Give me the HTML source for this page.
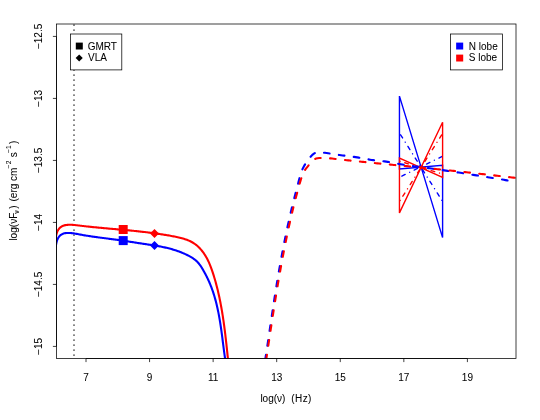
<!DOCTYPE html>
<html><head><meta charset="utf-8"><title>SED</title>
<style>html,body{margin:0;padding:0;background:#fff;width:540px;height:420px;overflow:hidden}svg{display:block}text{font-family:"Liberation Sans",sans-serif;stroke:#000;stroke-width:0.06px}</style>
</head><body>
<svg width="540" height="420" viewBox="0 0 540 420" style="position:absolute;left:0;top:0">
<defs><clipPath id="pc"><rect x="56.5" y="24" width="459.5" height="334.5"/></clipPath></defs>
<rect x="0" y="0" width="540" height="420" fill="#fff"/>
<g clip-path="url(#pc)" fill="none" stroke-linejoin="round">
<line x1="74" y1="24.375" x2="74" y2="358.5" stroke="#000" stroke-width="1.25" stroke-dasharray="1.25 3.75"/>
<path d="M55.70,247.57 L55.81,246.60 L55.94,245.60 L56.09,244.57 L56.28,243.52 L56.50,242.48 L56.76,241.45 L57.07,240.43 L57.44,239.46 L57.86,238.52 L58.34,237.64 L58.90,236.83 L59.52,236.09 L60.20,235.43 L60.95,234.84 L61.75,234.34 L62.61,233.93 L63.52,233.60 L64.47,233.34 L65.44,233.15 L66.44,233.03 L67.46,232.96 L68.48,232.94 L69.49,232.96 L70.51,233.01 L71.53,233.10 L72.54,233.22 L73.56,233.36 L74.57,233.52 L75.59,233.69 L76.60,233.88 L77.61,234.07 L78.62,234.26 L79.63,234.45 L80.64,234.64 L81.65,234.82 L82.66,235.00 L83.66,235.17 L84.67,235.34 L85.67,235.51 L86.68,235.67 L87.68,235.83 L88.68,235.99 L89.69,236.14 L90.69,236.29 L91.69,236.44 L92.69,236.59 L93.69,236.73 L94.69,236.87 L95.69,237.01 L96.69,237.15 L97.68,237.28 L98.68,237.42 L99.68,237.55 L100.68,237.68 L101.67,237.81 L102.67,237.94 L103.67,238.07 L104.67,238.20 L105.66,238.33 L106.66,238.46 L107.66,238.58 L108.65,238.71 L109.65,238.84 L110.65,238.97 L111.64,239.10 L112.64,239.23 L113.64,239.36 L114.64,239.49 L115.63,239.62 L116.63,239.75 L117.63,239.89 L118.63,240.03 L119.63,240.17 L120.63,240.31 L121.63,240.45 L122.63,240.60 L123.63,240.75 L124.63,240.90 L125.64,241.05 L126.64,241.20 L127.64,241.36 L128.65,241.52 L129.65,241.68 L130.65,241.84 L131.66,242.00 L132.66,242.16 L133.67,242.32 L134.67,242.48 L135.67,242.63 L136.68,242.79 L137.68,242.95 L138.68,243.11 L139.69,243.26 L140.69,243.41 L141.69,243.56 L142.69,243.71 L143.69,243.86 L144.69,244.00 L145.69,244.15 L146.69,244.30 L147.69,244.45 L148.69,244.59 L149.69,244.74 L150.69,244.89 L151.68,245.05 L152.68,245.20 L153.67,245.36 L154.67,245.52 L155.66,245.68 L156.66,245.85 L157.65,246.03 L158.64,246.20 L159.63,246.39 L160.62,246.57 L161.62,246.77 L162.61,246.97 L163.59,247.17 L164.58,247.39 L165.57,247.61 L166.56,247.83 L167.54,248.07 L168.53,248.31 L169.51,248.56 L170.49,248.83 L171.47,249.09 L172.45,249.37 L173.42,249.66 L174.39,249.96 L175.36,250.26 L176.32,250.58 L177.29,250.90 L178.24,251.24 L179.20,251.59 L180.15,251.95 L181.09,252.31 L182.03,252.69 L182.96,253.09 L183.89,253.49 L184.82,253.90 L185.74,254.33 L186.65,254.77 L187.56,255.22 L188.45,255.68 L189.35,256.16 L190.23,256.65 L191.11,257.16 L191.98,257.68 L192.83,258.22 L193.67,258.78 L194.48,259.37 L195.27,259.99 L196.03,260.63 L196.77,261.31 L197.47,262.01 L198.15,262.74 L198.80,263.50 L199.43,264.29 L200.03,265.09 L200.61,265.92 L201.17,266.76 L201.72,267.61 L202.25,268.48 L202.77,269.36 L203.28,270.25 L203.78,271.14 L204.27,272.03 L204.76,272.92 L205.24,273.82 L205.72,274.72 L206.19,275.63 L206.65,276.53 L207.10,277.44 L207.55,278.36 L207.98,279.27 L208.41,280.19 L208.83,281.11 L209.24,282.04 L209.64,282.96 L210.03,283.90 L210.41,284.83 L210.79,285.77 L211.15,286.70 L211.51,287.65 L211.86,288.59 L212.20,289.54 L212.54,290.49 L212.87,291.44 L213.19,292.39 L213.50,293.35 L213.81,294.31 L214.11,295.27 L214.40,296.24 L214.68,297.20 L214.96,298.17 L215.23,299.14 L215.50,300.11 L215.76,301.09 L216.01,302.06 L216.26,303.04 L216.51,304.02 L216.74,305.00 L216.97,305.98 L217.20,306.97 L217.42,307.95 L217.64,308.94 L217.85,309.93 L218.06,310.92 L218.26,311.91 L218.45,312.91 L218.65,313.90 L218.84,314.90 L219.02,315.89 L219.20,316.89 L219.38,317.89 L219.55,318.89 L219.72,319.89 L219.89,320.89 L220.05,321.89 L220.22,322.89 L220.37,323.90 L220.53,324.90 L220.68,325.91 L220.83,326.91 L220.98,327.92 L221.12,328.92 L221.27,329.93 L221.41,330.94 L221.55,331.94 L221.68,332.95 L221.82,333.96 L221.96,334.96 L222.09,335.97 L222.22,336.98 L222.35,337.99 L222.48,338.99 L222.61,340.00 L222.74,341.00 L222.87,342.01 L223.00,343.02 L223.13,344.02 L223.26,345.03 L223.39,346.03 L223.52,347.03 L223.65,348.04 L223.78,349.04 L223.91,350.04 L224.04,351.04 L224.17,352.04 L224.31,353.04 L224.44,354.04 L224.58,355.03 L224.72,356.03 L224.86,357.02 L225.00,358.02 L225.14,359.01 L225.29,360.00 L225.44,360.99 L225.59,361.98 L225.74,362.96" stroke="#0000ff" stroke-width="2.1"/>
<path d="M55.70,238.60 L55.82,237.54 L55.98,236.45 L56.19,235.36 L56.44,234.27 L56.75,233.20 L57.11,232.15 L57.54,231.14 L58.03,230.19 L58.59,229.30 L59.23,228.48 L59.93,227.75 L60.70,227.09 L61.53,226.53 L62.42,226.05 L63.36,225.67 L64.35,225.37 L65.37,225.14 L66.42,224.97 L67.48,224.85 L68.55,224.79 L69.61,224.76 L70.68,224.77 L71.75,224.80 L72.82,224.87 L73.89,224.95 L74.96,225.05 L76.02,225.17 L77.09,225.29 L78.16,225.42 L79.23,225.55 L80.29,225.68 L81.36,225.81 L82.43,225.93 L83.49,226.06 L84.56,226.18 L85.62,226.30 L86.69,226.42 L87.75,226.53 L88.82,226.65 L89.88,226.76 L90.95,226.87 L92.01,226.98 L93.07,227.09 L94.14,227.19 L95.20,227.30 L96.26,227.40 L97.32,227.50 L98.39,227.61 L99.45,227.71 L100.51,227.81 L101.57,227.91 L102.63,228.01 L103.69,228.10 L104.76,228.20 L105.82,228.30 L106.88,228.39 L107.94,228.49 L109.00,228.58 L110.06,228.68 L111.12,228.77 L112.18,228.87 L113.24,228.96 L114.29,229.06 L115.35,229.15 L116.41,229.25 L117.47,229.34 L118.53,229.44 L119.59,229.53 L120.65,229.63 L121.70,229.72 L122.76,229.82 L123.82,229.92 L124.88,230.01 L125.94,230.11 L126.99,230.21 L128.05,230.31 L129.11,230.41 L130.16,230.51 L131.22,230.62 L132.28,230.72 L133.34,230.83 L134.39,230.93 L135.45,231.04 L136.51,231.15 L137.56,231.26 L138.62,231.37 L139.68,231.48 L140.73,231.60 L141.79,231.72 L142.85,231.84 L143.90,231.96 L144.96,232.08 L146.01,232.20 L147.07,232.33 L148.13,232.46 L149.18,232.59 L150.24,232.72 L151.30,232.86 L152.35,233.00 L153.41,233.14 L154.46,233.28 L155.52,233.43 L156.58,233.57 L157.63,233.72 L158.69,233.88 L159.75,234.03 L160.80,234.19 L161.86,234.36 L162.92,234.52 L163.97,234.69 L165.03,234.86 L166.09,235.04 L167.14,235.22 L168.20,235.40 L169.26,235.58 L170.31,235.77 L171.37,235.96 L172.43,236.16 L173.48,236.36 L174.54,236.56 L175.60,236.77 L176.65,236.99 L177.70,237.22 L178.75,237.45 L179.80,237.69 L180.84,237.95 L181.87,238.22 L182.90,238.51 L183.91,238.81 L184.92,239.13 L185.93,239.47 L186.92,239.83 L187.90,240.22 L188.87,240.62 L189.82,241.05 L190.76,241.51 L191.69,242.00 L192.60,242.51 L193.50,243.05 L194.38,243.63 L195.24,244.24 L196.09,244.88 L196.91,245.56 L197.72,246.26 L198.50,246.99 L199.27,247.75 L200.01,248.53 L200.73,249.33 L201.44,250.15 L202.11,250.98 L202.77,251.83 L203.41,252.69 L204.02,253.57 L204.61,254.46 L205.18,255.35 L205.73,256.26 L206.27,257.18 L206.78,258.11 L207.28,259.05 L207.76,260.00 L208.23,260.95 L208.68,261.92 L209.11,262.89 L209.53,263.86 L209.94,264.85 L210.34,265.84 L210.73,266.83 L211.10,267.83 L211.47,268.83 L211.83,269.84 L212.18,270.85 L212.52,271.86 L212.85,272.88 L213.18,273.90 L213.50,274.91 L213.82,275.93 L214.14,276.95 L214.44,277.97 L214.75,279.00 L215.04,280.02 L215.34,281.05 L215.62,282.07 L215.91,283.10 L216.19,284.13 L216.46,285.16 L216.73,286.19 L216.99,287.22 L217.25,288.25 L217.51,289.29 L217.76,290.32 L218.01,291.36 L218.25,292.39 L218.49,293.43 L218.72,294.47 L218.95,295.51 L219.18,296.55 L219.40,297.59 L219.62,298.63 L219.84,299.67 L220.05,300.71 L220.26,301.76 L220.46,302.80 L220.66,303.85 L220.86,304.89 L221.05,305.94 L221.25,306.99 L221.43,308.03 L221.62,309.08 L221.80,310.13 L221.98,311.18 L222.15,312.23 L222.32,313.28 L222.49,314.34 L222.66,315.39 L222.83,316.44 L222.99,317.49 L223.15,318.55 L223.30,319.60 L223.46,320.66 L223.61,321.71 L223.76,322.77 L223.90,323.82 L224.05,324.88 L224.19,325.93 L224.33,326.99 L224.47,328.05 L224.61,329.11 L224.74,330.16 L224.88,331.22 L225.01,332.28 L225.14,333.34 L225.27,334.40 L225.39,335.46 L225.52,336.52 L225.64,337.57 L225.77,338.63 L225.89,339.69 L226.01,340.75 L226.13,341.81 L226.24,342.87 L226.36,343.93 L226.48,344.99 L226.59,346.05 L226.71,347.11 L226.82,348.17 L226.93,349.23 L227.05,350.29 L227.16,351.35 L227.27,352.41 L227.38,353.47 L227.49,354.53 L227.60,355.59 L227.71,356.65 L227.82,357.71 L227.93,358.77 L228.04,359.83 L228.15,360.88 L228.26,361.94 L228.37,363.00" stroke="#ff0000" stroke-width="2.1"/>
<rect x="118.7" y="236.1" width="9" height="9" fill="#0000ff"/>
<rect x="118.7" y="225.0" width="9" height="9" fill="#ff0000"/>
<path d="M150.0,245.4 L154.5,240.9 L159.0,245.4 L154.5,249.9 Z" fill="#0000ff"/>
<path d="M150.0,233.5 L154.5,229.0 L159.0,233.5 L154.5,238.0 Z" fill="#ff0000"/>
<path d="M399.45,169.0 L399.45,96.1 L442.6,237.6 L442.6,165.2 Z" stroke="#0000ff" stroke-width="1.4" stroke-linejoin="miter"/>
<line x1="399.45" y1="133.0" x2="442.6" y2="201.5" stroke="#0000ff" stroke-width="1.4" stroke-dasharray="0.01 5 3.75 4.99" stroke-linecap="round" stroke-dashoffset="2.9"/>
<line x1="399.45" y1="177.3" x2="442.6" y2="156.2" stroke="#0000ff" stroke-width="1.4" stroke-dasharray="0.01 5 3.75 4.99" stroke-linecap="round" stroke-dashoffset="2.37"/>
<path d="M399.45,158.0 L399.45,212.9 L442.6,122.2 L442.6,177.4 Z" stroke="#ff0000" stroke-width="1.4" stroke-linejoin="miter"/>
<line x1="399.45" y1="201.5" x2="442.6" y2="133.5" stroke="#ff0000" stroke-width="1.4" stroke-dasharray="0.01 5 3.75 4.99" stroke-linecap="round" stroke-dashoffset="12.45"/>
<line x1="399.45" y1="161.2" x2="442.6" y2="174.0" stroke="#ff0000" stroke-width="1.4" stroke-dasharray="0.01 5 3.75 4.99" stroke-linecap="round" stroke-dashoffset="13.23"/>
<path id="bd" d="M264.22,366.00 L264.48,364.39 L264.73,362.78 L264.99,361.17 L265.24,359.56 L265.49,357.95 L265.74,356.33 L265.99,354.72 L266.23,353.11 L266.48,351.50 L266.72,349.88 L266.97,348.27 L267.21,346.66 L267.45,345.05 L267.70,343.43 L267.94,341.82 L268.18,340.21 L268.42,338.59 L268.66,336.98 L268.90,335.37 L269.14,333.75 L269.38,332.14 L269.62,330.53 L269.86,328.92 L270.10,327.30 L270.34,325.69 L270.58,324.08 L270.82,322.46 L271.06,320.85 L271.30,319.24 L271.54,317.62 L271.78,316.01 L272.02,314.40 L272.26,312.78 L272.51,311.17 L272.75,309.56 L272.99,307.95 L273.24,306.34 L273.48,304.72 L273.73,303.11 L273.98,301.50 L274.23,299.89 L274.48,298.28 L274.73,296.66 L274.99,295.05 L275.24,293.44 L275.50,291.83 L275.75,290.22 L276.01,288.61 L276.27,287.00 L276.54,285.39 L276.80,283.78 L277.07,282.17 L277.34,280.57 L277.61,278.96 L277.88,277.35 L278.15,275.74 L278.43,274.13 L278.70,272.53 L278.98,270.92 L279.27,269.31 L279.55,267.71 L279.84,266.10 L280.12,264.49 L280.41,262.89 L280.70,261.28 L281.00,259.68 L281.29,258.07 L281.59,256.47 L281.89,254.87 L282.19,253.26 L282.50,251.66 L282.80,250.06 L283.11,248.46 L283.42,246.86 L283.73,245.25 L284.05,243.65 L284.36,242.05 L284.68,240.45 L285.00,238.85 L285.33,237.25 L285.65,235.66 L285.98,234.06 L286.31,232.46 L286.65,230.87 L286.98,229.27 L287.32,227.67 L287.66,226.08 L288.01,224.49 L288.36,222.89 L288.71,221.30 L289.06,219.71 L289.42,218.12 L289.79,216.54 L290.15,214.95 L290.52,213.36 L290.90,211.78 L291.28,210.20 L291.66,208.62 L292.05,207.04 L292.44,205.46 L292.83,203.88 L293.23,202.31 L293.63,200.73 L294.03,199.15 L294.43,197.57 L294.83,195.99 L295.24,194.42 L295.64,192.84 L296.06,191.27 L296.47,189.71 L296.89,188.14 L297.31,186.57 L297.72,185.00 L298.12,183.42 L298.53,181.83 L298.93,180.23 L299.34,178.64 L299.77,177.05 L300.22,175.48 L300.70,173.92 L301.23,172.38 L301.79,170.86 L302.41,169.38 L303.08,167.93 L303.82,166.51 L304.61,165.11 L305.45,163.72 L306.35,162.35 L307.31,160.99 L308.30,159.65 L309.34,158.33 L310.42,157.03 L311.53,155.77 L312.70,154.60 L313.94,153.60 L315.28,152.85 L316.73,152.40 L318.28,152.21 L319.90,152.21 L321.56,152.36 L323.23,152.58 L324.89,152.81 L326.53,153.06 L328.16,153.30 L329.79,153.56 L331.40,153.81 L333.01,154.06 L334.62,154.30 L336.23,154.54 L337.83,154.78 L339.44,155.00 L341.05,155.22 L342.66,155.43 L344.28,155.63 L345.89,155.84 L347.51,156.04 L349.13,156.25 L350.74,156.45 L352.36,156.67 L353.98,156.89 L355.59,157.12 L357.20,157.37 L358.82,157.63 L360.42,157.90 L362.03,158.19 L363.63,158.49 L365.24,158.79 L366.84,159.09 L368.45,159.38 L370.05,159.66 L371.66,159.92 L373.27,160.16 L374.89,160.37 L376.51,160.55 L378.13,160.70 L379.75,160.86 L381.37,161.01 L382.99,161.19 L384.61,161.40 L386.22,161.63 L387.83,161.88 L389.44,162.15 L391.04,162.44 L392.65,162.73 L394.25,163.04 L395.85,163.35 L397.46,163.66 L399.06,163.97 L400.66,164.27 L402.27,164.56 L403.88,164.84 L405.49,165.11 L407.10,165.36 L408.71,165.59 L410.33,165.82 L411.94,166.03 L413.56,166.24 L415.18,166.44 L416.80,166.65 L418.42,166.85 L420.03,167.05 L421.65,167.26 L423.27,167.47 L424.89,167.68 L426.50,167.89 L428.12,168.11 L429.74,168.32 L431.35,168.55 L432.97,168.77 L434.58,168.99 L436.20,169.22 L437.81,169.45 L439.43,169.68 L441.04,169.91 L442.66,170.15 L444.27,170.38 L445.88,170.62 L447.50,170.86 L449.11,171.10 L450.72,171.34 L452.33,171.59 L453.95,171.83 L455.56,172.08 L457.17,172.33 L458.78,172.58 L460.39,172.82 L462.00,173.08 L463.62,173.33 L465.23,173.58 L466.84,173.83 L468.45,174.09 L470.06,174.34 L471.67,174.60 L473.28,174.85 L474.89,175.11 L476.50,175.36 L478.11,175.62 L479.72,175.88 L481.33,176.14 L482.94,176.39 L484.55,176.65 L486.16,176.91 L487.77,177.17 L489.38,177.43 L490.99,177.69 L492.60,177.95 L494.21,178.22 L495.82,178.48 L497.43,178.75 L499.04,179.02 L500.64,179.29 L502.25,179.56 L503.86,179.83 L505.47,180.11 L507.07,180.38 L508.68,180.66 L510.29,180.94 L511.89,181.23 L513.50,181.51" stroke="#0000ff" stroke-width="2.1" stroke-dasharray="5.625 9.375" stroke-linecap="round" stroke-dashoffset="9.4"/>
<path id="rd" d="M265.28,366.01 L265.52,364.40 L265.76,362.79 L266.00,361.18 L266.23,359.57 L266.47,357.96 L266.71,356.35 L266.95,354.74 L267.19,353.13 L267.42,351.51 L267.66,349.90 L267.90,348.29 L268.14,346.68 L268.38,345.07 L268.62,343.46 L268.86,341.85 L269.10,340.24 L269.34,338.63 L269.58,337.02 L269.82,335.41 L270.06,333.80 L270.30,332.19 L270.55,330.58 L270.79,328.97 L271.03,327.36 L271.28,325.75 L271.52,324.14 L271.77,322.53 L272.01,320.92 L272.26,319.31 L272.51,317.70 L272.75,316.09 L273.00,314.48 L273.25,312.87 L273.50,311.26 L273.76,309.65 L274.01,308.04 L274.26,306.43 L274.52,304.82 L274.77,303.22 L275.03,301.61 L275.29,300.00 L275.55,298.39 L275.81,296.78 L276.07,295.18 L276.33,293.57 L276.60,291.96 L276.86,290.36 L277.13,288.75 L277.40,287.14 L277.67,285.54 L277.94,283.93 L278.21,282.33 L278.49,280.72 L278.76,279.12 L279.04,277.51 L279.32,275.91 L279.60,274.30 L279.89,272.70 L280.17,271.10 L280.46,269.49 L280.74,267.89 L281.03,266.29 L281.33,264.69 L281.62,263.09 L281.92,261.49 L282.21,259.89 L282.51,258.28 L282.81,256.68 L283.12,255.09 L283.42,253.49 L283.73,251.89 L284.04,250.29 L284.35,248.69 L284.67,247.09 L284.99,245.50 L285.31,243.90 L285.63,242.30 L285.95,240.71 L286.28,239.11 L286.61,237.52 L286.94,235.92 L287.27,234.33 L287.61,232.74 L287.95,231.14 L288.29,229.55 L288.63,227.96 L288.98,226.37 L289.33,224.78 L289.68,223.19 L290.04,221.60 L290.40,220.01 L290.76,218.42 L291.12,216.83 L291.49,215.24 L291.86,213.66 L292.23,212.07 L292.61,210.49 L292.99,208.90 L293.37,207.32 L293.76,205.74 L294.15,204.16 L294.55,202.58 L294.96,201.01 L295.37,199.44 L295.78,197.87 L296.21,196.30 L296.63,194.73 L297.06,193.17 L297.48,191.60 L297.91,190.02 L298.33,188.45 L298.76,186.87 L299.19,185.30 L299.63,183.72 L300.08,182.16 L300.55,180.60 L301.04,179.04 L301.55,177.50 L302.08,175.97 L302.66,174.46 L303.30,172.99 L304.02,171.56 L304.84,170.18 L305.77,168.86 L306.77,167.58 L307.82,166.30 L308.89,165.00 L309.96,163.67 L311.03,162.35 L312.15,161.10 L313.34,160.01 L314.63,159.15 L316.05,158.56 L317.57,158.21 L319.15,158.03 L320.77,157.96 L322.40,157.95 L324.03,157.98 L325.65,158.05 L327.27,158.15 L328.89,158.27 L330.52,158.42 L332.14,158.58 L333.76,158.75 L335.38,158.93 L337.00,159.11 L338.62,159.30 L340.24,159.48 L341.86,159.65 L343.48,159.83 L345.10,160.01 L346.72,160.18 L348.34,160.36 L349.96,160.53 L351.58,160.70 L353.20,160.87 L354.82,161.04 L356.45,161.21 L358.07,161.38 L359.69,161.55 L361.31,161.71 L362.93,161.88 L364.55,162.04 L366.17,162.21 L367.79,162.37 L369.41,162.54 L371.03,162.70 L372.65,162.86 L374.27,163.02 L375.89,163.18 L377.51,163.34 L379.14,163.50 L380.76,163.66 L382.38,163.82 L384.00,163.98 L385.62,164.13 L387.24,164.29 L388.86,164.45 L390.48,164.61 L392.10,164.76 L393.72,164.92 L395.34,165.08 L396.96,165.23 L398.58,165.39 L400.20,165.55 L401.82,165.70 L403.44,165.86 L405.06,166.02 L406.69,166.17 L408.31,166.33 L409.93,166.49 L411.55,166.64 L413.17,166.80 L414.79,166.96 L416.41,167.11 L418.03,167.27 L419.65,167.43 L421.27,167.59 L422.89,167.75 L424.51,167.91 L426.13,168.07 L427.75,168.23 L429.37,168.39 L430.99,168.55 L432.61,168.71 L434.23,168.88 L435.85,169.04 L437.47,169.20 L439.09,169.37 L440.71,169.53 L442.33,169.70 L443.95,169.87 L445.57,170.03 L447.19,170.20 L448.80,170.37 L450.42,170.54 L452.04,170.71 L453.66,170.89 L455.28,171.06 L456.90,171.23 L458.52,171.41 L460.14,171.59 L461.76,171.76 L463.38,171.94 L465.00,172.12 L466.61,172.30 L468.23,172.47 L469.85,172.65 L471.47,172.84 L473.09,173.02 L474.71,173.20 L476.33,173.38 L477.94,173.56 L479.56,173.74 L481.18,173.93 L482.80,174.11 L484.42,174.30 L486.03,174.48 L487.65,174.67 L489.27,174.85 L490.89,175.04 L492.51,175.22 L494.12,175.41 L495.74,175.59 L497.36,175.78 L498.98,175.96 L500.59,176.15 L502.21,176.34 L503.83,176.52 L505.45,176.71 L507.06,176.90 L508.68,177.08 L510.30,177.27 L511.91,177.45 L513.53,177.64 L515.15,177.82 L516.76,178.01 L518.38,178.20 L520.00,178.38" stroke="#ff0000" stroke-width="2.1" stroke-dasharray="5.625 9.375" stroke-linecap="round" stroke-dashoffset="9.36"/>
</g>
<g stroke="#000" fill="none" stroke-width="0.75">
<rect x="56.5" y="24" width="459.5" height="334.5" />
<path d="M86.00,358.5 L467.40,358.5"/>
<line x1="86.00" y1="358.5" x2="86.00" y2="362.1"/>
<line x1="149.57" y1="358.5" x2="149.57" y2="362.1"/>
<line x1="213.13" y1="358.5" x2="213.13" y2="362.1"/>
<line x1="276.70" y1="358.5" x2="276.70" y2="362.1"/>
<line x1="340.27" y1="358.5" x2="340.27" y2="362.1"/>
<line x1="403.83" y1="358.5" x2="403.83" y2="362.1"/>
<line x1="467.40" y1="358.5" x2="467.40" y2="362.1"/>
<path d="M56.5,36.42 L56.5,346.42"/>
<line x1="56.5" y1="36.42" x2="52.9" y2="36.42"/>
<line x1="56.5" y1="98.42" x2="52.9" y2="98.42"/>
<line x1="56.5" y1="160.42" x2="52.9" y2="160.42"/>
<line x1="56.5" y1="222.42" x2="52.9" y2="222.42"/>
<line x1="56.5" y1="284.42" x2="52.9" y2="284.42"/>
<line x1="56.5" y1="346.42" x2="52.9" y2="346.42"/>
</g>
<rect x="70.5" y="34" width="51.3" height="35.9" fill="#fff" stroke="#000" stroke-width="0.75"/>
<rect x="75.8" y="42.6" width="7" height="6.9" fill="#000"/>
<path d="M75.65,58 L79.2,54.45 L82.75,58 L79.2,61.55 Z" fill="#000"/>
<rect x="450.5" y="34" width="52" height="35.9" fill="#fff" stroke="#000" stroke-width="0.75"/>
<rect x="456.15" y="42.6" width="7.05" height="6.9" fill="#0000ff"/>
<rect x="456.15" y="54.6" width="7.05" height="6.9" fill="#ff0000"/>
<g font-family="Liberation Sans, sans-serif" font-size="10px" fill="#000" opacity="0.999">
<text x="86.00" y="380.6" text-anchor="middle">7</text>
<text x="149.57" y="380.6" text-anchor="middle">9</text>
<text x="213.13" y="380.6" text-anchor="middle">11</text>
<text x="276.70" y="380.6" text-anchor="middle">13</text>
<text x="340.27" y="380.6" text-anchor="middle">15</text>
<text x="403.83" y="380.6" text-anchor="middle">17</text>
<text x="467.40" y="380.6" text-anchor="middle">19</text>
<text transform="translate(42.3,36.42) rotate(-90)" text-anchor="middle">−12.5</text>
<text transform="translate(42.3,98.42) rotate(-90)" text-anchor="middle">−13</text>
<text transform="translate(42.3,160.42) rotate(-90)" text-anchor="middle">−13.5</text>
<text transform="translate(42.3,222.42) rotate(-90)" text-anchor="middle">−14</text>
<text transform="translate(42.3,284.42) rotate(-90)" text-anchor="middle">−14.5</text>
<text transform="translate(42.3,346.42) rotate(-90)" text-anchor="middle">−15</text>
<text x="260.4" y="401.9" xml:space="preserve">log(ν)</text><text x="291.3" y="401.9" letter-spacing="0.4">(Hz)</text>
<text transform="translate(17.1,191.4) rotate(-90)" text-anchor="middle" xml:space="preserve"><tspan dx="0.8">log(</tspan><tspan dx="0.1">νF</tspan><tspan font-size="7px" dy="1.8" dx="-1.0">ν</tspan><tspan dy="-1.8" dx="1.35">)</tspan><tspan dx="-1.5">  (erg cm</tspan><tspan font-size="6.6px" dy="-5.9" dx="-0.6">−2</tspan><tspan dy="5.9" dx="0.6"> s</tspan><tspan font-size="6.6px" dy="-5.9" dx="-0.6">−1</tspan><tspan dy="5.9" dx="1.4">)</tspan></text>
<text x="87.7" y="49.5">GMRT</text><text x="88.0" y="61.4">VLA</text>
<text x="468.8" y="49.5">N lobe</text><text x="468.8" y="61.4">S lobe</text>
</g>
</svg>
</body></html>
